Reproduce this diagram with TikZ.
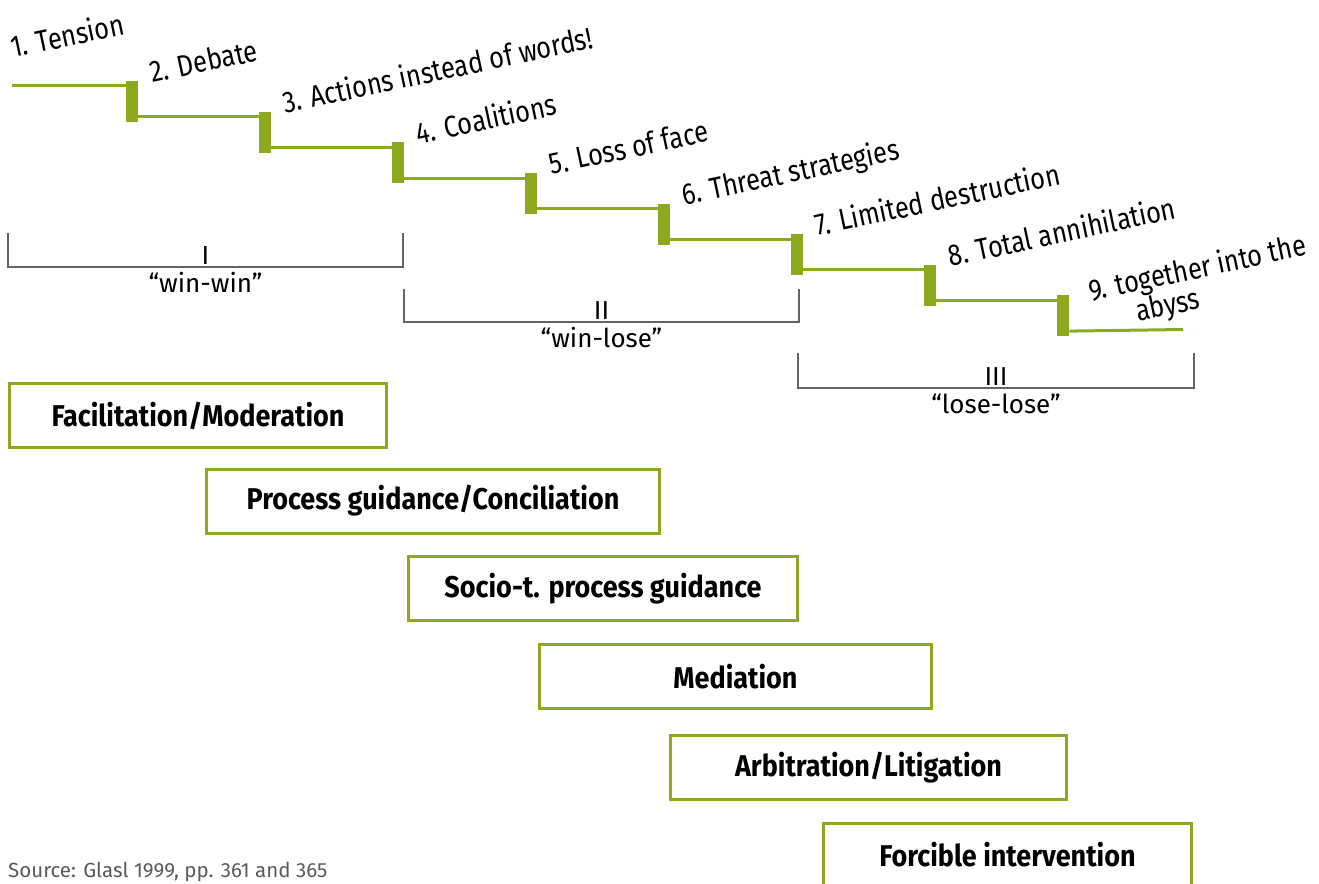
\documentclass[tikz,border=0pt]{standalone}
\usepackage{fontspec}
\setmainfont{Fira Sans}[FakeStretch=0.845]
\newfontfamily\boxfont{Fira Sans}[FakeStretch=0.9]
\newfontfamily\widefont{Fira Sans}
\definecolor{stepgreen}{RGB}{141,170,30}
\definecolor{brackgray}{RGB}{100,100,100}
\definecolor{srcgray}{RGB}{90,90,90}
\begin{document}
\begin{tikzpicture}[x=1bp,y=-1bp,
  stepbar/.style={fill=stepgreen,draw=none,inner sep=0pt,minimum width=12bp,minimum height=41bp,anchor=north west},
  stepline/.style={draw=stepgreen,line width=3bp},
  steplabel/.style={rotate=12,inner sep=0pt,font=\fontsize{30bp}{28bp}\selectfont},
  bracket/.style={draw=brackgray,line width=2.5bp},
  phase/.style={inner sep=0pt,font=\widefont\fontsize{26bp}{28bp}\selectfont},
  method/.style={draw=stepgreen,line width=3bp,fill=white,inner sep=0pt,minimum height=64bp,
    font=\boxfont\bfseries\fontsize{30bp}{32bp}\selectfont}]
\useasboundingbox (0,0) rectangle (1319,883);

% escalation staircase
\foreach \i in {1,...,8}{
  \node[stepbar] (b\i) at ({126+133*(\i-1)},{81+30.6*(\i-1)}) {};
}
\coordinate (start) at (12,85.5);
\coordinate (finish) at (1183,329.5);
\draw[stepline] (start) -- (start -| b1.west);
\foreach \i [evaluate=\i as \j using int(\i+1)] in {1,...,7}{
  \draw[stepline] ([yshift=5.5bp]b\i.south east) -- ([yshift=5.5bp]b\i.south east -| b\j.west);
}
\draw[stepline] ([yshift=5.5bp]b8.south east) -- (finish);

% stage labels
\node[steplabel,anchor=base west] (l1) at (13,58) {1. Tension};
\node[steplabel,anchor=base west] (l2) at ([xshift=14bp,yshift=-2bp]b1.north east) {2. Debate};
\node[steplabel,anchor=base west] (l3) at ([xshift=14bp,yshift=-2bp]b2.north east) {3. Actions instead of words!};
\node[steplabel,anchor=base west] (l4) at ([xshift=14bp,yshift=-2bp]b3.north east) {4. Coalitions};
\node[steplabel,anchor=base west] (l5) at ([xshift=14bp,yshift=-2bp]b4.north east) {5. Loss of face};
\node[steplabel,anchor=base west] (l6) at ([xshift=14bp,yshift=-2bp]b5.north east) {6. Threat strategies};
\node[steplabel,anchor=base west] (l7) at ([xshift=14bp,yshift=-2bp]b6.north east) {7. Limited destruction};
\node[steplabel,anchor=base west] (l8) at ([xshift=14bp,yshift=-2bp]b7.north east) {8. Total annihilation};
\node[steplabel,anchor=north west,align=left] (l9) at (1086,278) {9. together into the\\\hspace*{42bp}abyss};

% phase brackets
\draw[bracket] (8,233) -- (8,267) -- (403,267) -- (403,233);
\node[phase,anchor=base] (p1) at (205.5,264) {I};
\node[phase,anchor=base] (w1) at (205.5,292) {“win-win”};
\draw[bracket] (404,289) -- (404,322) -- (799,322) -- (799,289);
\node[phase,anchor=base] (p2) at (601.5,319) {II};
\node[phase,anchor=base] (w2) at (601.5,347) {“win-lose”};
\draw[bracket] (798,353) -- (798,388) -- (1194,388) -- (1194,353);
\node[phase,anchor=base] (p3) at (996,385) {III};
\node[phase,anchor=base] (w3) at (996,413) {“lose-lose”};

% intervention methods
\node[method,minimum width=377bp] (m1) at (198,415.5) {Facilitation/Moderation};
\node[method,minimum width=453bp] (m2) at (433,501) {Process guidance/Conciliation};
\node[method,minimum width=389bp] (m3) at (603,588.5) {Socio-t. process guidance};
\node[method,minimum width=392bp] (m4) at (735.5,676.5) {Mediation};
\node[method,minimum width=396bp] (m5) at (868.5,767.5) {Arbitration/Litigation};
\node[method,minimum width=368bp] (m6) at (1007.5,855) {Forcible intervention};

% source
\node[anchor=base west,inner sep=0pt,text=srcgray,font=\widefont\fontsize{20.5bp}{24bp}\selectfont] (src) at (8,877) {Source: Glasl 1999, pp. 361 and 365};
\end{tikzpicture}
\end{document}
